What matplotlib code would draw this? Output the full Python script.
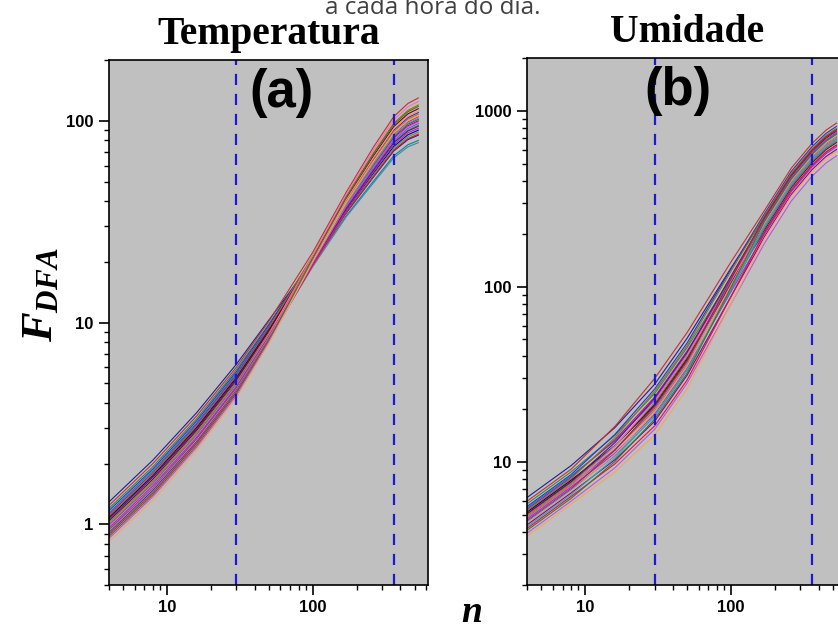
import numpy as np
import matplotlib.pyplot as plt
from matplotlib.ticker import FuncFormatter, NullFormatter

plt.rcParams['mathtext.fontset'] = 'custom'
plt.rcParams['mathtext.it'] = 'Liberation Serif:italic:bold'
plt.rcParams['mathtext.rm'] = 'Liberation Serif:bold'

# escalas n onde as curvas foram lidas
n_pts = [4, 8, 16, 30, 50, 100, 170, 260, 360, 450, 530]

# F_DFA - Temperatura (uma curva por hora do dia)
temp_curves = [
    [1.29, 2.08, 3.58, 6.23, 10.29, 20.15, 35.0, 52.5, 71.0, 80.8, 85],
    [1.24, 2.00, 3.45, 6.02, 10.15, 22.3, 44.4, 73.9, 105.1, 122.1, 130],
    [1.20, 1.93, 3.34, 5.85, 9.84, 20.43, 37.1, 57.2, 78.6, 90.0, 95],
    [1.17, 1.88, 3.26, 5.72, 9.72, 21.12, 40.2, 64.4, 90.0, 103.8, 110],
    [1.14, 1.84, 3.18, 5.60, 9.49, 19.53, 33.9, 50.1, 67.2, 76.2, 80],
    [1.12, 1.80, 3.13, 5.51, 9.45, 20.74, 39.2, 62.0, 86.2, 99.2, 105],
    [1.10, 1.77, 3.08, 5.43, 9.38, 21.45, 42.3, 69.1, 97.6, 112.9, 120],
    [1.08, 1.74, 3.02, 5.34, 9.20, 19.89, 36.0, 54.8, 74.8, 85.4, 90],
    [1.06, 1.71, 2.97, 5.26, 9.12, 20.35, 38.1, 59.6, 82.4, 94.6, 100],
    [1.04, 1.67, 2.92, 5.17, 9.05, 21.05, 41.2, 66.8, 93.8, 108.4, 115],
    [1.02, 1.64, 2.86, 5.09, 8.87, 19.64, 35.6, 53.9, 73.3, 83.6, 88],
    [1.00, 1.61, 2.81, 5.00, 8.82, 20.60, 39.8, 63.4, 88.5, 101.9, 108],
    [0.99, 1.59, 2.78, 4.96, 8.74, 20.02, 37.5, 58.2, 80.1, 91.8, 97],
    [0.97, 1.56, 2.73, 4.87, 8.71, 21.39, 43.3, 71.5, 101.4, 117.5, 125],
    [0.96, 1.55, 2.70, 4.83, 8.57, 19.70, 36.4, 55.8, 76.3, 87.3, 92],
    [0.94, 1.51, 2.65, 4.75, 8.49, 20.16, 38.5, 60.6, 83.9, 96.4, 102],
    [0.93, 1.50, 2.62, 4.70, 8.37, 18.92, 33.5, 49.1, 65.7, 74.4, 78],
    [0.92, 1.48, 2.60, 4.66, 8.41, 20.61, 40.6, 65.3, 91.5, 105.6, 112],
    [0.91, 1.47, 2.57, 4.62, 8.31, 19.68, 36.8, 56.7, 77.9, 89.1, 94],
    [0.90, 1.45, 2.54, 4.58, 8.28, 20.11, 38.7, 61.0, 84.7, 97.4, 103],
    [0.89, 1.43, 2.52, 4.53, 8.18, 19.23, 35.2, 52.9, 71.8, 81.8, 86],
    [0.87, 1.40, 2.46, 4.45, 8.16, 20.79, 41.9, 68.2, 96.0, 111.1, 118],
    [0.85, 1.37, 2.41, 4.36, 8.01, 19.79, 37.9, 59.1, 81.6, 93.7, 99],
    [0.82, 1.32, 2.33, 4.24, 7.87, 20.07, 39.4, 62.5, 86.9, 100.1, 106],
]

# F_DFA - Umidade
umid_curves = [
    [6.30, 9.56, 15.74, 27.8, 50.7, 127.2, 248.6, 433.4, 598.4, 712.8, 781],
    [6.00, 9.11, 15.99, 30.0, 54.6, 137.8, 271.2, 472.8, 652.8, 777.6, 852],
    [5.80, 8.80, 14.21, 24.6, 44.9, 111.3, 214.7, 374.3, 516.8, 615.6, 674],
    [5.60, 8.50, 14.39, 26.1, 47.6, 125.6, 259.9, 453.1, 625.6, 745.2, 816],
    [5.50, 8.35, 13.22, 22.5, 41.0, 111.3, 237.3, 413.7, 571.2, 680.4, 745],
    [5.40, 8.20, 13.41, 23.5, 42.9, 106.0, 203.4, 354.6, 489.6, 583.2, 639],
    [5.30, 8.05, 13.78, 25.3, 46.0, 121.9, 253.1, 441.3, 609.3, 725.8, 795],
    [5.20, 7.89, 12.42, 21.0, 38.2, 104.9, 226.0, 394.0, 544.0, 648.0, 710],
    [5.10, 7.74, 12.92, 23.1, 42.1, 114.5, 244.1, 425.5, 587.5, 699.8, 767],
    [5.05, 7.67, 12.36, 21.4, 39.0, 102.3, 210.2, 366.4, 505.9, 602.6, 660],
    [5.00, 7.59, 12.42, 21.8, 39.8, 108.7, 232.8, 405.8, 560.3, 667.4, 731],
    [4.95, 7.51, 11.75, 19.7, 35.9, 100.2, 219.2, 382.2, 527.7, 628.6, 689],
    [4.85, 7.36, 11.81, 20.3, 37.1, 106.5, 239.6, 417.6, 576.6, 686.9, 753],
    [4.80, 7.29, 12.30, 22.3, 40.6, 108.1, 226.0, 394.0, 544.0, 648.0, 710],
    [4.75, 7.21, 11.25, 18.8, 34.3, 93.3, 198.9, 346.7, 478.7, 570.2, 625],
    [4.65, 7.06, 11.69, 20.8, 37.8, 109.7, 248.6, 433.4, 598.4, 712.8, 781],
    [4.60, 6.98, 10.89, 18.2, 33.2, 95.4, 214.7, 374.3, 516.8, 615.6, 674],
    [4.50, 6.83, 11.07, 19.3, 35.1, 101.8, 230.5, 401.9, 554.9, 661.0, 724],
    [4.40, 6.68, 10.33, 17.1, 31.2, 87.5, 192.1, 334.9, 462.4, 550.8, 603],
    [4.30, 6.53, 10.58, 18.4, 33.5, 97.5, 221.5, 386.1, 533.1, 635.0, 696],
    [4.20, 6.38, 9.78, 16.1, 29.3, 87.5, 203.4, 354.6, 489.6, 583.2, 639],
    [4.10, 6.22, 10.09, 17.6, 32.0, 98.6, 235.0, 409.8, 565.8, 673.9, 738],
    [3.95, 6.00, 9.29, 15.4, 28.1, 79.5, 176.3, 307.3, 424.3, 505.4, 554],
    [3.80, 5.77, 8.79, 14.3, 26.1, 79.5, 187.6, 327.0, 451.5, 537.8, 589],
]

# linhas verticais (limites das regioes de escala)
n_cortes = [30, 360]

cores = ['#1f1f8f', '#c03030', '#2e8b57', '#3030d0', '#008b8b', '#c000c0',
         '#808000', '#000080', '#800080', '#800000', '#4b9b4b', '#d2691e',
         '#6a5acd', '#ff69b4', '#9932cc', '#b22222', '#4682b4', '#e9967a',
         '#8b008b', '#20b2aa', '#dc143c', '#556b2f', '#ba55d3', '#f4a460']

fig = plt.figure(figsize=(8.38, 6.3), dpi=100)
ax1 = fig.add_axes([0.130, 0.0714, 0.381, 0.833])
ax2 = fig.add_axes([0.629, 0.0714, 0.381, 0.8365])

fmt = FuncFormatter(lambda v, _: f'{v:g}')

def desenha(ax, curvas, ylim, titulo, letra, xl):
    ax.set_facecolor('#c0c0c0')
    for i, c in enumerate(curvas):
        ax.plot(n_pts, c, color=cores[i % len(cores)], lw=0.8)
    for nc in n_cortes:
        ax.axvline(nc, color='#1a1ad0', ls=(0, (5, 4)), lw=1.6)
    ax.set_xscale('log')
    ax.set_yscale('log')
    ax.set_xlim(4, 620)
    ax.set_ylim(*ylim)
    for a in (ax.xaxis, ax.yaxis):
        a.set_major_formatter(fmt)
        a.set_minor_formatter(NullFormatter())
    ax.tick_params(which='major', direction='out', length=7, width=1.2,
                   labelsize=12, pad=4)
    ax.tick_params(which='minor', direction='out', length=3.5, width=1.0)
    for lab in ax.get_xticklabels() + ax.get_yticklabels():
        lab.set_fontfamily('Liberation Sans')
        lab.set_fontweight('bold')
    for s in ax.spines.values():
        s.set_linewidth(1.2)
    ax.set_title(titulo, fontsize=28.5, fontweight='bold',
                 fontfamily='Liberation Serif', pad=11.5)
    ax.text(xl, 0.937, letra, transform=ax.transAxes, ha='center',
            va='center', fontsize=38, fontweight='bold',
            fontfamily='Liberation Sans')

desenha(ax1, temp_curves, (0.5, 200), 'Temperatura', '(a)', 0.542)
desenha(ax2, umid_curves, (2, 2000), 'Umidade', '(b)', 0.473)

fig.text(40 / 838, 1 - 295 / 630, r'$F_{DFA}$', rotation=90, ha='center',
         va='center', fontsize=32)
fig.text(472 / 838, 1 - 622 / 630, 'n', ha='center', va='baseline',
         fontsize=27, fontstyle='italic', fontweight='bold',
         fontfamily='Liberation Serif')
fig.text(433 / 838, 1 - 14 / 630, 'a cada hora do dia.', ha='center',
         va='baseline', fontsize=17.5, color='#404040', fontfamily='Open Sans')

fig.savefig('out.png', dpi=100)
